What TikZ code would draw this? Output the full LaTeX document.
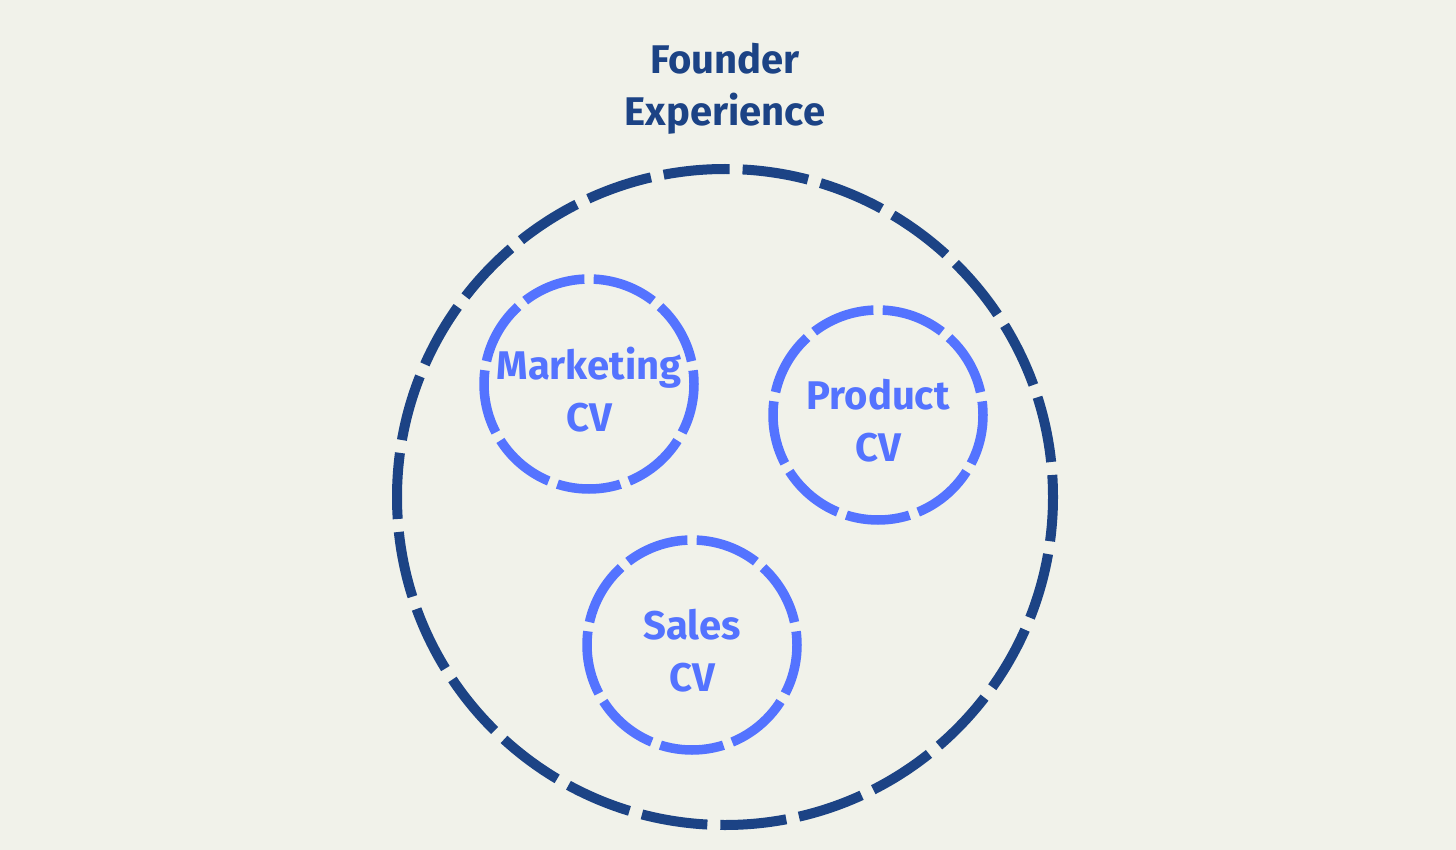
\documentclass[tikz,border=0pt]{standalone}
\usepackage{fontspec}
\setmainfont{Fira Sans}
\usetikzlibrary{positioning}
\definecolor{navy}{HTML}{1C4385}
\definecolor{cvblue}{HTML}{5473FF}
\definecolor{paper}{HTML}{F1F2EA}

\begin{document}
\begin{tikzpicture}[x=1pt,y=-1pt,
    bigring/.style={circle,draw=navy,line width=10pt,inner sep=0pt,minimum size=656pt,
      dash pattern=on 66.27pt off 13pt,dash phase=44.2pt},
    cvring/.style={circle,draw=cvblue,line width=9.5pt,inner sep=0pt,minimum size=210pt,
      dash pattern=on 64pt off 9.3pt,dash phase=50.35pt},
    bigtext/.style={font=\fontsize{40}{52}\selectfont\bfseries,align=center,inner sep=0pt},
    cvtext/.style={bigtext,text=cvblue}]
    \fill[paper] (0,0) rectangle (1456,850);
    \useasboundingbox (0,0) rectangle (1456,850);

    % outer ring and its title
    \node (founder) [bigring] at (725,497) {};
    \node (title) [bigtext,text=navy,above=29pt of founder] {Founder\\Experience};

    % the three CV rings
    \node (marketing) [cvring] at (589,384) {};
    \node (product) [cvring] at (878,415) {};
    \node (sales) [cvring] at (692,645) {};

    \node (marketinglabel) [cvtext,yshift=-5.5pt] at (marketing) {Marketing\\CV};
    \node (productlabel) [cvtext,yshift=-5.5pt] at (product) {Product\\CV};
    \node (saleslabel) [cvtext,yshift=-5.5pt] at (sales) {Sales\\CV};
\end{tikzpicture}
\end{document}
